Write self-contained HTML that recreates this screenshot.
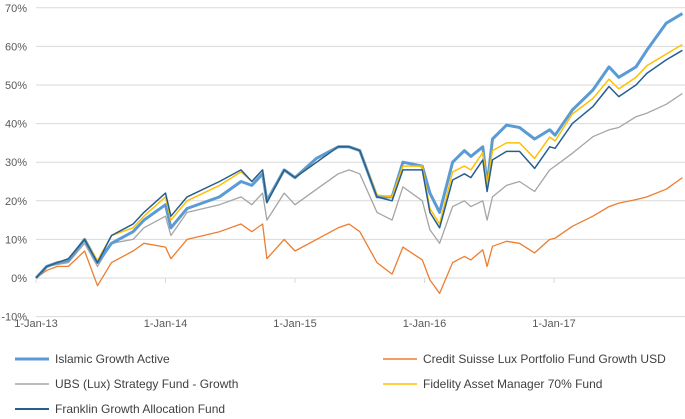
<!DOCTYPE html>
<html><head><meta charset="utf-8">
<style>
html,body{margin:0;padding:0;background:#fff;}
svg{display:block;font-family:"Liberation Sans",sans-serif;}
</style></head>
<body>
<svg id="chart" width="685" height="419" viewBox="0 0 685 419">
<g id="grid"></g>
<g id="yaxis"></g>
<g id="xaxis"></g>
<g id="series"></g>
<g id="legend"></g>
</svg>
<script>
const months = [0,1,2,3,4.5,5.7,7,9,10,12,12.5,14,17,19,20,21,21.4,23,24,26,28,29,30,31.6,33,34,35.8,36.5,37.4,38.6,39.7,40.3,41.4,41.8,42.3,43.6,44.8,46.2,47.6,48.1,49.7,51.6,53.1,54,55.6,56.6,58.4,59.9];
const islamic = [0,3,4,4.5,10,4,9,12,15,19,13,18,21,25,24,27,20,28,26,31,34,34,33,21,21,30,29,22,17,30,33,31.5,34,24,36,39.6,39,36,38.4,37,43.5,48.7,54.7,52,54.7,59,66,68.5];
const creditSuisse = [0,2,3,3,7,-2,4,7,9,8,5,10,12,14,12,14,5,10,7,10,13,14,12,4,1,8,4.7,-0.5,-4,4,5.6,4.7,7.3,3,8.2,9.5,9,6.5,10,10.3,13.4,16,18.5,19.4,20.3,21,23,26];
const ubs = [0,3,3.5,4,9,3,9,10,13,16,11,17,19,21,19,22,15,22,19,23,27,28,27,17,15,23.6,20,12.5,9,18.5,20,18.5,20,15,21,24,25,22.4,28,29,32.3,36.6,38.4,39,41.8,42.7,45,47.8];
const fidelity = [0,3,4,5,10,4.5,11,13,16,21,15,20,24,27.5,25,28,19.5,28,26,30,34,34,33,21.5,21,29,29,18,14,27.5,29,28,32.5,24,33,35,35,31,36.5,35.5,42.5,46.5,51.5,49,52,55,58,60.5];
const franklin = [0,3,4,5,10,4,11,14,17,22,16,21,25,28,25,28,19.5,28,26,30,34,34,33,21,20,28,28,17,13,25.4,27,26,30.6,22.4,30.6,32.8,32.8,28.4,34,33.6,40,44.4,49.6,47,50,53,56.5,59];
const yTicks = [70,60,50,40,30,20,10,0,-10];
const xTickMonths = [0,12,24,36,48];
const xTickLabels = ["1-Jan-13","1-Jan-14","1-Jan-15","1-Jan-16","1-Jan-17"];
const seriesNames = ["Islamic Growth Active","Credit Suisse Lux Portfolio Fund Growth USD","UBS (Lux) Strategy Fund - Growth","Fidelity Asset Manager 70% Fund","Franklin Growth Allocation Fund"];

const NS="http://www.w3.org/2000/svg";
const X0=36, PX_PER_MONTH=129.5/12, Y0=278, PX_PER_PCT=3.86;
const xs=m=>X0+m*PX_PER_MONTH;
const ys=v=>Y0-v*PX_PER_PCT;
function mk(tag,attrs,parent){const e=document.createElementNS(NS,tag);for(const k in attrs)e.setAttribute(k,attrs[k]);parent.appendChild(e);return e;}

const grid=document.getElementById('grid'), yaxis=document.getElementById('yaxis'), xaxis=document.getElementById('xaxis');
yTicks.forEach(v=>{
  const l=mk('line',{x1:X0,x2:685,y1:ys(v),y2:ys(v),stroke:'#d9d9d9','stroke-width':1},grid);
  
  
  const t=mk('text',{x:27,y:ys(v)+4,'text-anchor':'end','font-size':11,fill:'#595959'},yaxis);
  t.textContent=v+'%';
  
  
});
xTickMonths.forEach((m,i)=>{
  const tk=mk('line',{x1:xs(m),x2:xs(m),y1:Y0,y2:Y0+5,stroke:'#d9d9d9','stroke-width':1},xaxis);
  
  
  const t=mk('text',{x:xs(m),y:327,'text-anchor':'middle','font-size':11,fill:'#595959'},xaxis);
  t.textContent=xTickLabels[i];
  
  
});

const sg=document.getElementById('series');
const drawOrder=[
  {data:creditSuisse,color:'#ED7D31',w:1.3,name:'credit-suisse-line'},
  {data:ubs,color:'#A5A5A5',w:1.3,name:'ubs-line'},
  {data:islamic,color:'#5B9BD5',w:3,name:'islamic-growth-line'},
  {data:fidelity,color:'#FFC000',w:1.5,name:'fidelity-line'},
  {data:franklin,color:'#255E91',w:1.5,name:'franklin-line'}
];
drawOrder.forEach(s=>{
  const d=s.data.map((v,i)=>(i?'L':'M')+xs(months[i]).toFixed(1)+','+ys(v).toFixed(1)).join(' ');
  const p=mk('path',{d:d,fill:'none',stroke:s.color,'stroke-width':s.w,'stroke-linejoin':'round'},sg);
  
  
});

const lg=document.getElementById('legend');
const legendItems=[
  {c:'#5B9BD5',w:3,x:15,y:359},
  {c:'#ED7D31',w:1.5,x:383,y:359},
  {c:'#A5A5A5',w:1.5,x:15,y:384},
  {c:'#FFC000',w:1.5,x:383,y:384},
  {c:'#255E91',w:2,x:15,y:409}
];
legendItems.forEach((it,i)=>{
  const g=mk('g',{},lg);
  
  
  mk('line',{x1:it.x,x2:it.x+34,y1:it.y,y2:it.y,stroke:it.c,'stroke-width':it.w},g);
  const t=mk('text',{x:it.x+40,y:it.y+4,'font-size':12,fill:'#404040'},g);
  t.textContent=seriesNames[i];
});
</script>
</body></html>
